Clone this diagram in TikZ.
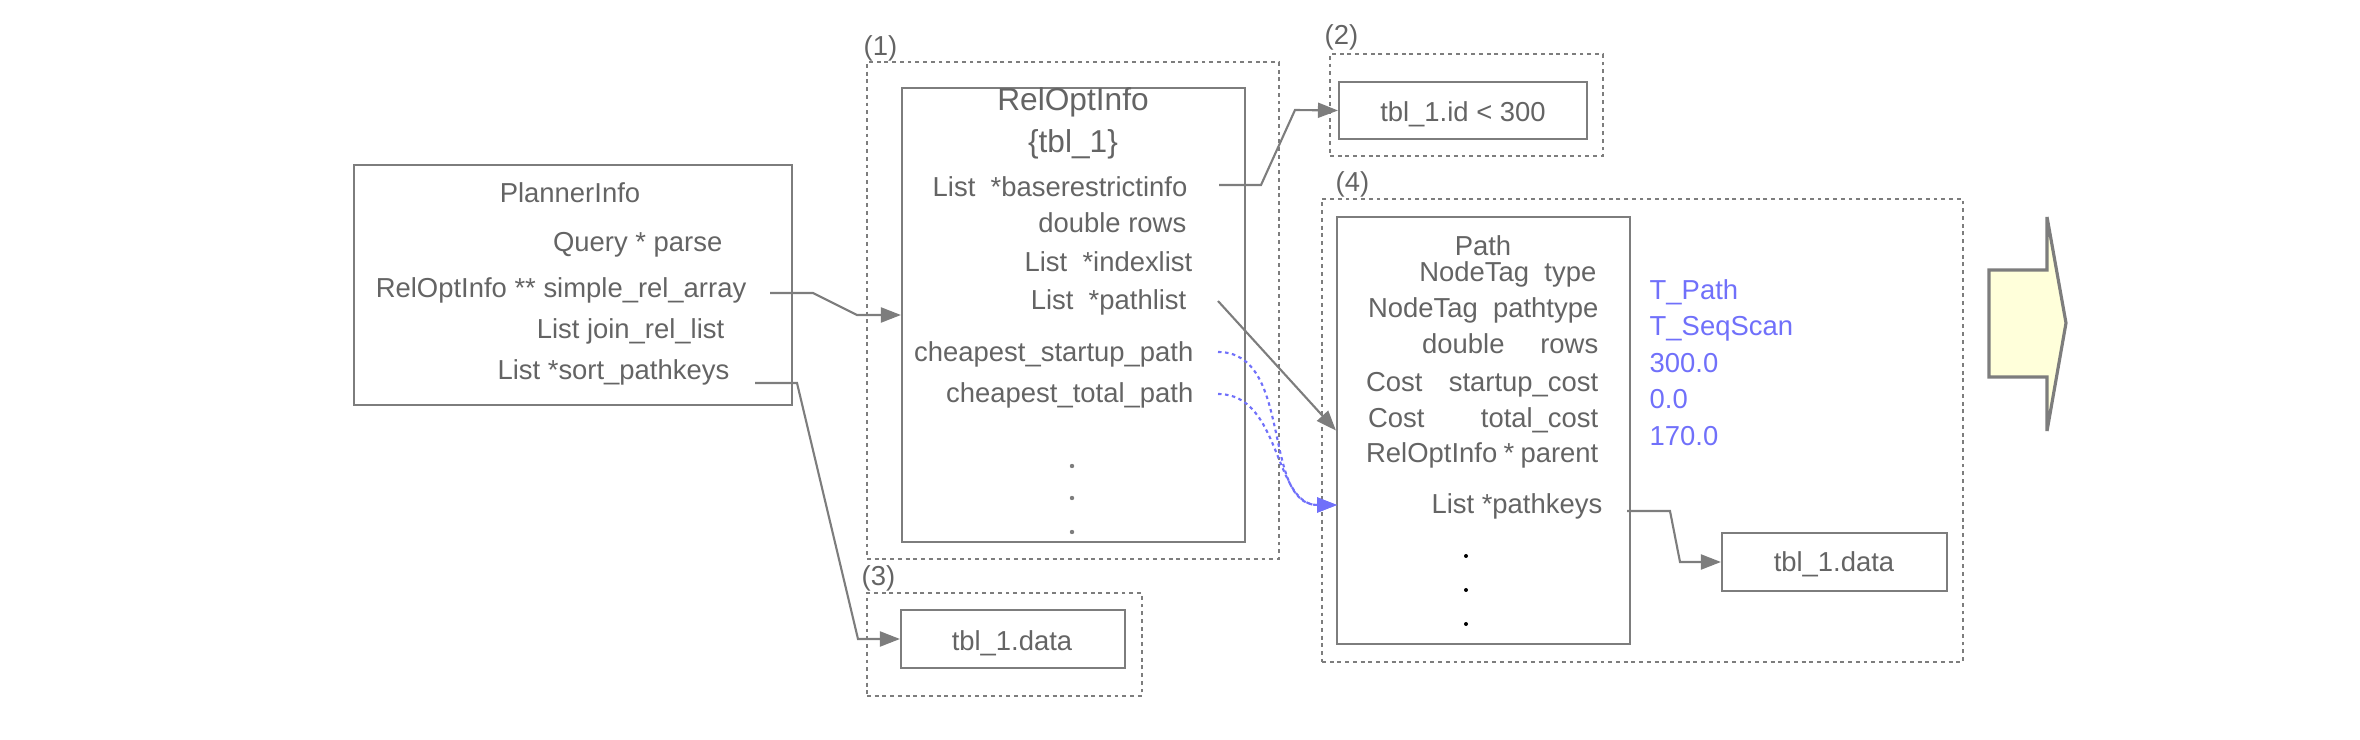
\documentclass[tikz,border=0pt]{standalone}
\usepackage{fontspec}
\setmainfont{Liberation Sans}
\usetikzlibrary{arrows.meta,fit}
\definecolor{lgrey}{RGB}{125,125,125}
\definecolor{tgrey}{RGB}{100,100,100}
\definecolor{vblue}{RGB}{112,112,250}
\definecolor{afill}{RGB}{255,255,218}
\begin{document}
\begin{tikzpicture}[x=0.01cm,y=-0.01cm,
  box/.style={draw=lgrey, line width=0.6pt, inner sep=0pt, fit={#1}},
  grp/.style={draw=lgrey, line width=0.5pt, dash pattern=on 1.1pt off 1.1pt, inner sep=0pt, fit={#1}},
  txt/.style={text=tgrey, font=\fontsize{7.8}{9}\selectfont, inner sep=0pt, anchor=base east},
  btxt/.style={text=vblue, font=\fontsize{7.8}{9}\selectfont, inner sep=0pt, anchor=base west},
  ttl/.style={text=tgrey, font=\fontsize{9}{10}\selectfont, inner sep=0pt, anchor=base},
  lbl/.style={text=tgrey, font=\fontsize{7.8}{9}\selectfont, inner sep=0pt, anchor=base west},
  conn/.style={draw=lgrey, line width=0.6pt, -{Triangle[length=0.2cm,width=0.15cm]}},
  bconn/.style={draw=vblue, line width=0.6pt, dash pattern=on 1pt off 1pt, -{Triangle[length=0.2cm,width=0.15cm,fill=vblue]}},
]
\useasboundingbox (0,0) rectangle (2360,740);

% PlannerInfo
\node[box={(354,165) (792,405)}] (planner) {};
\node[txt, anchor=base] (pit) at (570,203) {PlannerInfo};
\node[txt] (qp) at (723,252) {Query * parse};
\node[txt] (sra) at (747,298) {RelOptInfo ** simple\_rel\_array};
\node[txt] (jrl) at (725,339) {List join\_rel\_list};
\node[txt] (spk) at (730,380) {List *sort\_pathkeys};

% group (1)
\node[grp={(867,62) (1279,559)}] (g1) {};
\node[lbl] (l1) at (863,56) {(1)};
\node[box={(902,88) (1245,542)}] (rel) {};
\node[ttl] (relt) at (1073,111) {RelOptInfo};
\node[ttl] (relt2) at (1073,153) {\{tbl\_1\}};
\node[txt] (bri) at (1188,197) {List\ \ *baserestrictinfo};
\node[txt] (dr) at (1187,233) {double rows};
\node[txt] (il) at (1193,272) {List\ \ *indexlist};
\node[txt] (pl) at (1187,310) {List\ \ *pathlist};
\node[txt] (csp) at (1194,362) {cheapest\_startup\_path};
\node[txt] (ctp) at (1194,403) {cheapest\_total\_path};
\fill[lgrey] (1072,466) circle (2.2) (1072,498) circle (2.2) (1072,532) circle (2.2);

% group (2)
\node[grp={(1330,54) (1603,156)}] (g2) {};
\node[lbl] (l2) at (1324,45) {(2)};
\node[box={(1339,82) (1587,139)}] (cond) {};
\node[txt, anchor=base] (condt) at (1463,122) {tbl\_1.id < 300};

% group (3)
\node[grp={(867,593) (1142,696)}] (g3) {};
\node[lbl] (l3) at (861,585) {(3)};
\node[box={(901,610) (1125,668)}] (d3) {};
\node[txt, anchor=base] (d3t) at (1012,650) {tbl\_1.data};

% group (4)
\node[grp={(1322,199) (1963,662)}] (g4) {};
\node[lbl] (l4) at (1335,192) {(4)};
\node[box={(1337,217) (1630,644)}] (path) {};
\node[txt, anchor=base] (pt) at (1483,256) {Path};
\node[txt] (p1) at (1597,282) {NodeTag\ \ type};
\node[txt] (p2) at (1599,318) {\makebox[2.30cm][s]{NodeTag pathtype}};
\node[txt] (p3) at (1599,354) {\makebox[1.76cm][s]{double rows}};
\node[txt] (p4) at (1599,392) {\makebox[2.32cm][s]{Cost startup\_cost}};
\node[txt] (p5) at (1599,428) {\makebox[2.30cm][s]{Cost total\_cost}};
\node[txt] (p6) at (1599,463) {\makebox[2.32cm][s]{RelOptInfo * parent}};
\node[txt] (pk) at (1603,514) {List *pathkeys};
\fill[black] (1466,556) circle (2) (1466,590) circle (2) (1466,624) circle (2);
\node[btxt] (v1) at (1649,300) {T\_Path};
\node[btxt] (v2) at (1649,336) {T\_SeqScan};
\node[btxt] (v3) at (1649,373) {300.0};
\node[btxt] (v4) at (1649,409) {0.0};
\node[btxt] (v5) at (1649,446) {170.0};
\node[box={(1722,533) (1947,591)}] (d4) {};
\node[txt, anchor=base] (d4t) at (1834,572) {tbl\_1.data};

% big arrow
\draw[draw=lgrey, line width=0.9pt, fill=afill, line join=miter]
  (1989,270) -- (2047,270) -- (2047,217) -- (2066,323) -- (2047,431) -- (2047,377) -- (1989,377) -- cycle;

% connectors
\coordinate (c1) at (770,293);
\draw[conn] (c1) -- (813,293) -- (857,315) -- (rel.west);
\coordinate (c2) at (755,383);
\draw[conn] (c2) -- (797,383) -- (858,639) -- (d3.west);
\coordinate (c3) at (1219,185);
\draw[conn] (c3) -- (1261,185) -- (1295,110) -- (cond.west);
\coordinate (c4) at (1218,301);
\draw[conn] (c4) -- (path.west);
\coordinate (pin) at (1337,505);
\coordinate (c5) at (1218,352);
\draw[bconn] (c5) to[out=0,in=180] (pin);
\coordinate (c6) at (1218,394);
\draw[bconn] (c6) to[out=0,in=180] (pin);
\coordinate (c7) at (1627,511);
\draw[conn] (c7) -- (1670,511) -- (1680,562) -- (d4.west);
\end{tikzpicture}
\end{document}
